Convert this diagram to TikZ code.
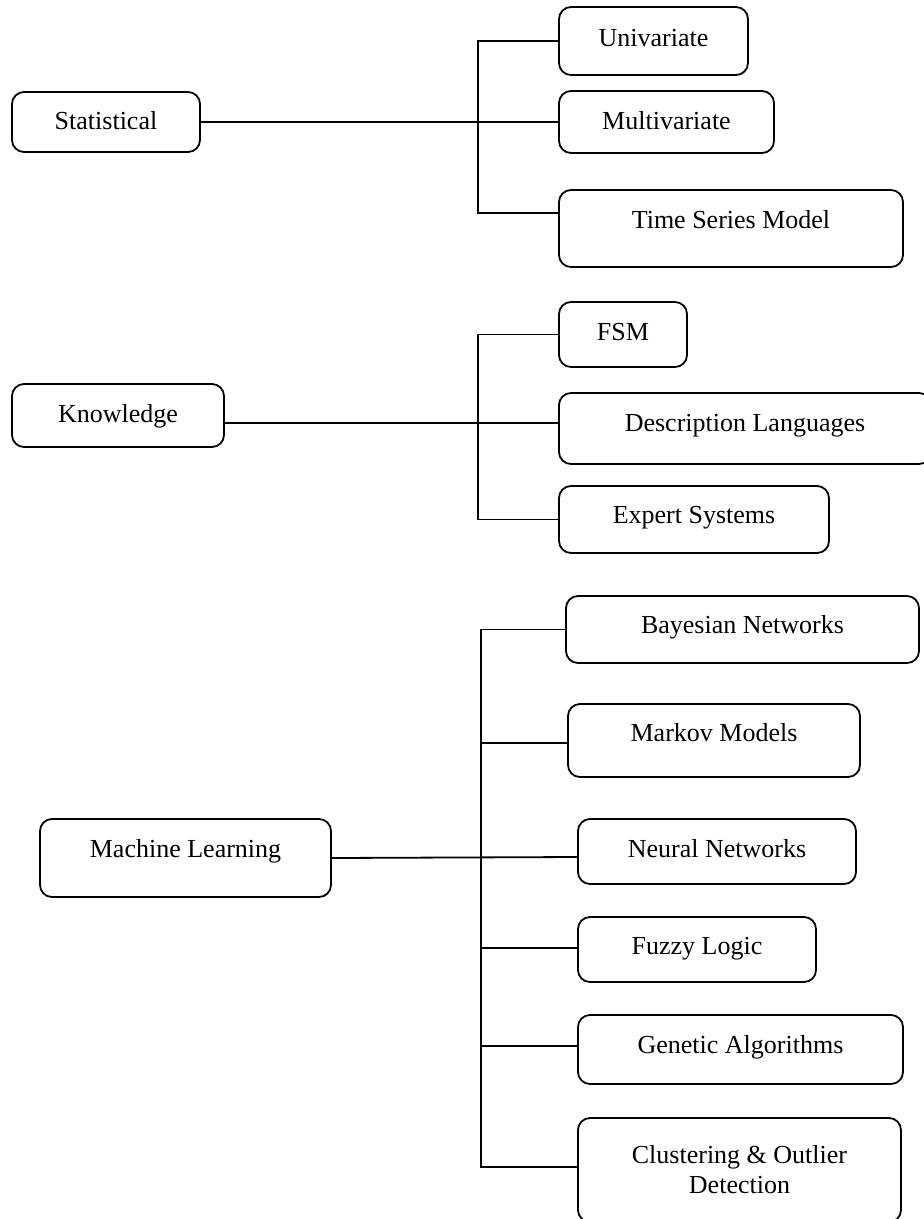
\documentclass[tikz,border=0pt]{standalone}
\usepackage{fontspec}
\setmainfont{Liberation Serif}
\begin{document}
\begin{tikzpicture}[x=1pt,y=-1pt,
  box/.style={draw, line width=1.8pt, rounded corners=12pt, inner sep=0pt,
    align=center, font=\fontsize{26pt}{30pt}\selectfont, text height=20pt},
  conn/.style={line width=1.8pt}]
\useasboundingbox (0,0) rectangle (924,1219);
% Statistical group
\node[box, minimum width=188pt, minimum height=60pt, text depth=4.8pt] (stat) at (106,122) {Statistical};
\node[box, minimum width=189pt, minimum height=68pt, text depth=9.8pt] (uni) at (653.5,41) {Univariate};
\node[box, minimum width=215pt, minimum height=62pt, text depth=4.8pt] (multi) at (666.5,122) {Multivariate};
\node[box, minimum width=344pt, minimum height=77pt, text depth=20.8pt] (ts) at (731,228.5) {Time Series Model};
\coordinate (sx) at (478,0);
\draw[conn] (stat.east) -- (multi.west);
\draw[conn] (uni.west) -- (uni.west -| sx) |- ([yshift=15.5pt]ts.west);
% Knowledge group
\node[box, minimum width=212pt, minimum height=63pt, text depth=6.8pt] (know) at (118,415.5) {Knowledge};
\node[box, minimum width=128pt, minimum height=65pt, text depth=8.8pt] (fsm) at (623,334.5) {FSM};
\node[box, minimum width=372pt, minimum height=71pt, text depth=13.8pt] (desc) at (745,428.5) {Description Languages};
\node[box, minimum width=270pt, minimum height=67pt, text depth=11.8pt] (exp) at (694,519.5) {Expert Systems};
\draw[conn] ([yshift=-7.5pt]know.east) -- ([yshift=5.5pt]desc.west);
\draw[conn] (fsm.west) -- (fsm.west -| sx) |- (exp.west);
% Machine learning group
\node[box, minimum width=291pt, minimum height=78pt, text depth=21.8pt] (ml) at (185.5,858) {Machine Learning};
\node[box, minimum width=353pt, minimum height=67pt, text depth=11.8pt] (bn) at (742.5,629.5) {Bayesian Networks};
\node[box, minimum width=292pt, minimum height=73pt, text depth=17.8pt] (mm) at (714,740.5) {Markov Models};
\node[box, minimum width=278pt, minimum height=65pt, text depth=8.8pt] (nn) at (717,851.5) {Neural Networks};
\node[box, minimum width=238pt, minimum height=65pt, text depth=10.8pt] (fl) at (697,949.5) {Fuzzy Logic};
\node[box, minimum width=325pt, minimum height=69pt, text depth=12.8pt] (ga) at (740.5,1049.5) {Genetic Algorithms};
\node[box, minimum width=323pt, minimum height=104pt, text height=, text depth=] (cl) at (739.5,1170) {Clustering \& Outlier\\Detection};
\coordinate (mx) at (481,0);
\draw[conn] (ml.east) -- ([yshift=-5.5pt]nn.west);
\draw[conn] (bn.west) -- (bn.west -| mx) |- ([yshift=3pt]cl.west);
\draw[conn] ([yshift=-2.5pt]mm.west) -- ([yshift=-2.5pt]mm.west -| mx);
\draw[conn] ([yshift=1.5pt]fl.west) -- ([yshift=1.5pt]fl.west -| mx);
\draw[conn] ([yshift=3.5pt]ga.west) -- ([yshift=3.5pt]ga.west -| mx);
\end{tikzpicture}
\end{document}
